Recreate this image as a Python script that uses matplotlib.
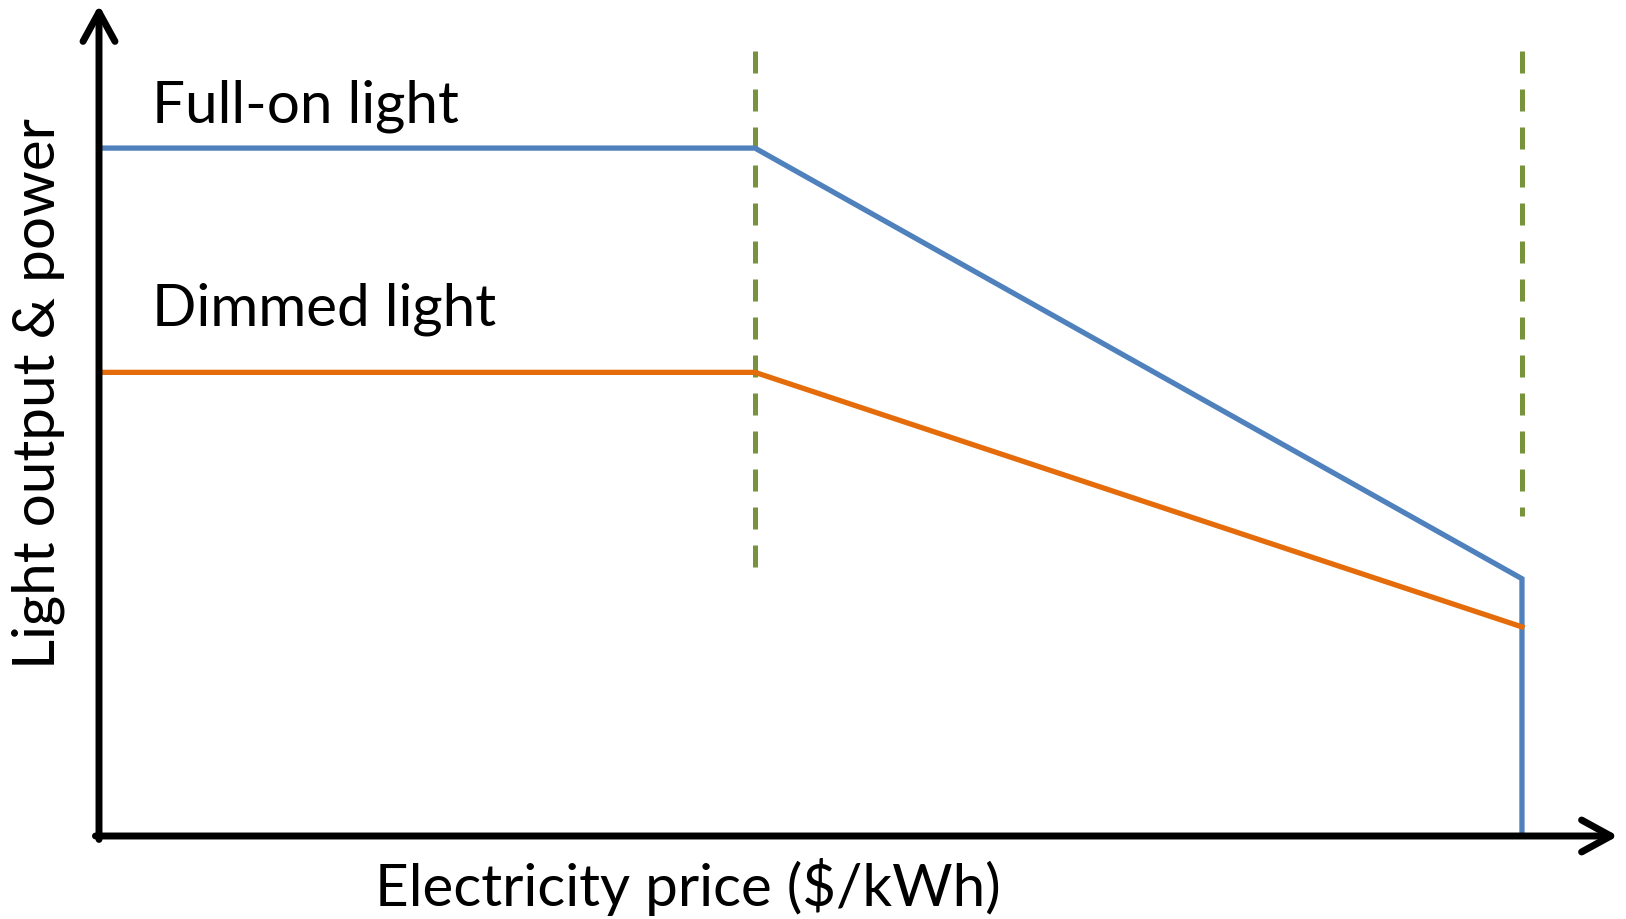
import matplotlib

matplotlib.use("Agg")

import matplotlib.pyplot as plt

# price in relative units (0 = origin, 1 = cut-off price), output relative to full-on
FULL_PRICE = [0.0, 0.461, 1.0, 1.0]
FULL_OUTPUT = [1.0, 1.0, 0.374, 0.0]
DIM_PRICE = [0.0, 0.461, 1.0]
DIM_OUTPUT = [0.674, 0.674, 0.304]
THRESHOLD_PRICE = [0.461, 1.0]
THRESHOLD_LOW = [0.39, 0.465]
THRESHOLD_HIGH = 1.141

BLUE = "#4F81BD"
ORANGE = "#E46C0A"
GREEN = "#77933C"
FONT = ["Lato", "DejaVu Sans"]
FONTSIZE = 42

XMAX = 1.0675
YMAX = 1.208

fig = plt.figure(figsize=(16.26, 9.2), dpi=100)
ax = fig.add_axes([99 / 1626, 83 / 920, 1519 / 1626, 831 / 920])
ax.set_xlim(0, XMAX)
ax.set_ylim(0, YMAX)
ax.axis("off")

for x, lo in zip(THRESHOLD_PRICE, THRESHOLD_LOW):
    ax.plot([x, x], [THRESHOLD_HIGH, lo], color=GREEN, lw=3.6,
            dashes=(4.4, 3.2), solid_capstyle="butt", zorder=2)

ax.plot(FULL_PRICE, FULL_OUTPUT, color=BLUE, lw=3.8, zorder=3,
        solid_joinstyle="miter", clip_on=False)
ax.plot(DIM_PRICE, DIM_OUTPUT, color=ORANGE, lw=3.8, zorder=3, clip_on=False)

arrow = dict(arrowstyle="->,head_length=2.1,head_width=1.15", lw=5,
             color="black", mutation_scale=10, shrinkA=0, shrinkB=0)
ax.annotate("", xy=(XMAX, 0), xytext=(-0.0025, 0), arrowprops=arrow,
            annotation_clip=False, zorder=4)
ax.annotate("", xy=(0, YMAX), xytext=(0, -0.005), arrowprops=arrow,
            annotation_clip=False, zorder=4)

ax.text(0.037, 1.039, "Full-on light", fontsize=FONTSIZE, family=FONT,
        va="baseline", ha="left")
ax.text(0.037, 0.744, "Dimmed light", fontsize=FONTSIZE, family=FONT,
        va="baseline", ha="left")
ax.text(0.414, -0.073, "Electricity price ($/kWh)", fontsize=FONTSIZE,
        family=FONT, ha="center", va="center", clip_on=False)
ax.text(-0.043, 0.644, "Light output & power", fontsize=FONTSIZE, family=FONT,
        rotation=90, ha="center", va="center", clip_on=False)

fig.savefig("out.png", dpi=100)
